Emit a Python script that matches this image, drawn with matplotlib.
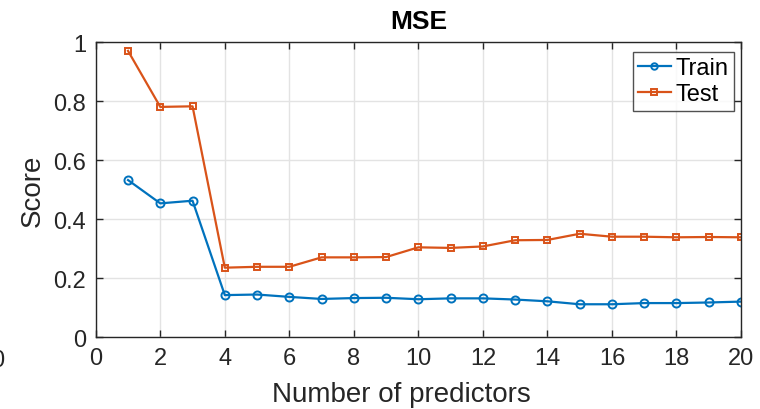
import matplotlib
matplotlib.use("Agg")
import matplotlib.pyplot as plt

plt.rcParams['font.family'] = ['Liberation Sans', 'DejaVu Sans']

predictors = list(range(1, 21))
train_mse = [0.532, 0.453, 0.462, 0.142, 0.144, 0.136, 0.129, 0.132, 0.133, 0.128,
             0.131, 0.131, 0.127, 0.121, 0.111, 0.111, 0.115, 0.115, 0.117, 0.120]
test_mse = [0.970, 0.780, 0.782, 0.235, 0.238, 0.238, 0.270, 0.270, 0.271, 0.304,
            0.302, 0.307, 0.328, 0.329, 0.350, 0.340, 0.340, 0.338, 0.339, 0.338]
x_ticks = list(range(0, 21, 2))
y_ticks = [0, 0.2, 0.4, 0.6, 0.8, 1.0]
y_tick_labels = ['0', '0.2', '0.4', '0.6', '0.8', '1']

blue = '#0072BD'
orange = '#D95319'
ink = '#262626'

fig = plt.figure(figsize=(7.6, 4.1), dpi=100)
ax = fig.add_axes([0.126, 0.1756, 0.849, 0.7195])

ax.plot(predictors, train_mse, color=blue, lw=1.6, marker='o', ms=5.8,
        mfc='none', mew=1.4, label='Train')
ax.plot(predictors, test_mse, color=orange, lw=1.6, marker='s', ms=5,
        mfc='none', mew=1.4, label='Test')

ax.set_xlim(0, 20)
ax.set_ylim(0, 1)
ax.set_xticks(x_ticks)
ax.set_yticks(y_ticks)
ax.set_yticklabels(y_tick_labels)
ax.grid(True, color='#e3e3e3', lw=1)
ax.set_axisbelow(True)
ax.tick_params(direction='in', length=5, width=1, colors=ink,
               labelsize=17, top=True, right=True, pad=7)
for s in ax.spines.values():
    s.set_color(ink)
    s.set_linewidth(1)

ax.set_xlabel('Number of predictors', fontsize=20, color=ink)
ax.xaxis.set_label_coords(0.473, -0.148)
ax.set_ylabel('Score', fontsize=20, color=ink, labelpad=5)
ax.set_title('MSE', fontsize=19, fontweight='bold', pad=10)

leg = ax.legend(loc='upper right', bbox_to_anchor=(0.989, 0.966),
                borderaxespad=0, fontsize=17, frameon=True, fancybox=False,
                edgecolor=ink, handlelength=1.36, borderpad=0.23,
                labelspacing=0.17, handletextpad=0.21, markerscale=0.8)
leg.get_frame().set_linewidth(1)

# stray neighbouring tick label at the far left edge
fig.text(-0.012, 0.105, '0', fontsize=17, color=ink)

fig.savefig('out.png', dpi=100)
